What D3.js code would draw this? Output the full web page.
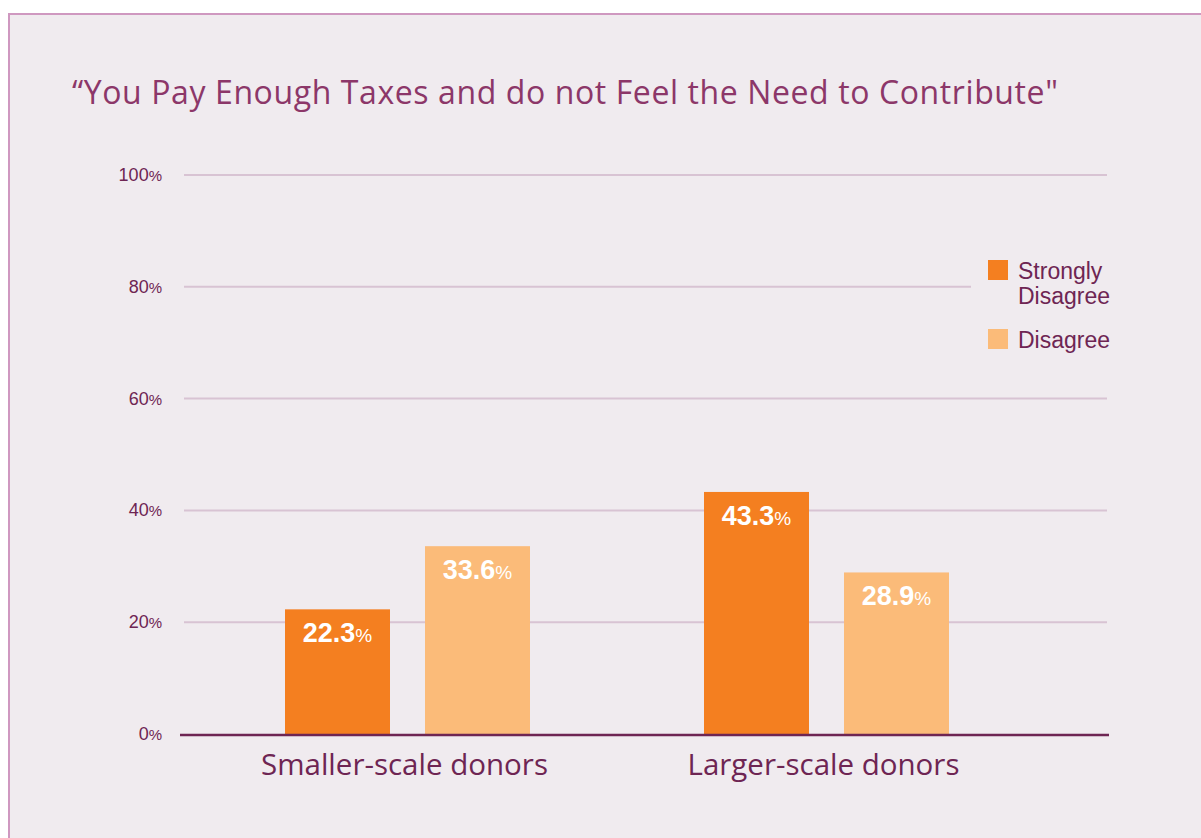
<!DOCTYPE html>
<html>
<head>
<meta charset="utf-8">
<script src="https://cdn.jsdelivr.net/npm/d3@7"></script>
<style>
  html, body { margin: 0; padding: 0; background: #ffffff; }
  svg { display: block; }
</style>
</head>
<body>
<div id="chart"></div>
<script>
// Survey answers by donor group
const categories = ["Smaller-scale donors", "Larger-scale donors"];
const seriesNames = ["Strongly Disagree", "Disagree"];
const stronglyDisagree = [22.3, 43.3];
const disagree = [33.6, 28.9];
const yTicks = [0, 20, 40, 60, 80, 100];
const titleText = "\u201CYou Pay Enough Taxes and do not Feel the Need to Contribute\"";

const W = 1201, H = 838;
const colors = ["#f47f20", "#fbbb79"];
const purple = "#8c3769";
const dark = "#6e2553";

const svg = d3.select("#chart").append("svg")
  .attr("width", W).attr("height", H);

// panel
svg.append("rect")
  .attr("x", 9).attr("y", 14)
  .attr("width", W + 20).attr("height", H + 20)
  .attr("fill", "#f0ebef")
  .attr("stroke", "#cf98c0").attr("stroke-width", 2);

svg.append("text")
  .attr("x", 72).attr("y", 104)
  .attr("font-family", "'Open Sans', sans-serif")
  .attr("font-size", 32)
  .attr("letter-spacing", 0.6)
  .attr("fill", purple)
  .text(titleText);

const y = d3.scaleLinear().domain([0, 100]).range([734, 175]);
const x0 = d3.scaleBand().domain(categories).range([198, 1036]).paddingInner(0).paddingOuter(0);
const x1 = d3.scaleBand().domain(seriesNames).range([87, 332]).paddingInner(0.25);

// gridlines (the 80% line stops short of the legend)
const grid = svg.append("g");
yTicks.filter(t => t > 0).forEach(t => {
  grid.append("line")
    .attr("x1", 184).attr("x2", t === 80 ? 971 : 1107)
    .attr("y1", y(t)).attr("y2", y(t))
    .attr("stroke", "#d8c3d3").attr("stroke-width", 2);
});

// y tick labels
const yAxis = svg.append("g");
yTicks.forEach(t => {
  const tx = yAxis.append("text")
    .attr("x", 162).attr("y", y(t) + 6)
    .attr("text-anchor", "end")
    .attr("font-family", "'Liberation Sans', Arial, sans-serif")
    .attr("fill", dark);
  tx.append("tspan").attr("font-size", 18).text(t);
  tx.append("tspan").attr("font-size", 15).text("%");
});

// bars
const data = categories.map((c, i) => ({
  cat: c,
  vals: [stronglyDisagree[i], disagree[i]]
}));

const groups = svg.append("g").selectAll("g")
  .data(data).join("g")
  .attr("transform", d => `translate(${x0(d.cat)},0)`);

const bars = groups.selectAll("g.bar")
  .data(d => d.vals.map((v, j) => ({ key: seriesNames[j], v, j })))
  .join("g").attr("class", "bar");

bars.append("rect")
  .attr("x", d => x1(d.key))
  .attr("width", x1.bandwidth())
  .attr("y", d => y(d.v))
  .attr("height", d => y(0) - y(d.v))
  .attr("fill", d => colors[d.j]);

const lbl = bars.append("text")
  .attr("x", d => x1(d.key) + x1.bandwidth() / 2)
  .attr("y", d => y(d.v) + 33)
  .attr("text-anchor", "middle")
  .attr("font-family", "'Liberation Sans', Arial, sans-serif")
  .attr("fill", "#ffffff");
lbl.append("tspan").attr("font-size", 27).attr("font-weight", "bold").text(d => d.v.toFixed(1));
lbl.append("tspan").attr("font-size", 19).text("%");

// baseline
svg.append("line")
  .attr("x1", 180).attr("x2", 1109)
  .attr("y1", y(0) + 1).attr("y2", y(0) + 1)
  .attr("stroke", dark).attr("stroke-width", 2.5);

// category labels
svg.append("g").selectAll("text")
  .data(categories).join("text")
  .attr("x", d => x0(d) + x0.bandwidth() / 2 - 3)
  .attr("y", 775)
  .attr("text-anchor", "middle")
  .attr("font-family", "'Open Sans', sans-serif")
  .attr("font-size", 29.5)
  .attr("fill", dark)
  .text(d => d);

// legend
const legend = svg.append("g");
const legendRows = [
  { lines: ["Strongly", "Disagree"], y: 260 },
  { lines: ["Disagree"], y: 329 }
];
legendRows.forEach((r, i) => {
  legend.append("rect")
    .attr("x", 988).attr("y", r.y)
    .attr("width", 20).attr("height", 20)
    .attr("fill", colors[i]);
  const t = legend.append("text")
    .attr("x", 1018).attr("y", r.y + 19)
    .attr("font-family", "'Liberation Sans', Arial, sans-serif")
    .attr("font-size", 23)
    .attr("fill", dark);
  r.lines.forEach((ln, k) => {
    t.append("tspan").attr("x", 1018).attr("dy", k === 0 ? 0 : 25).text(ln);
  });
});
</script>
</body>
</html>
